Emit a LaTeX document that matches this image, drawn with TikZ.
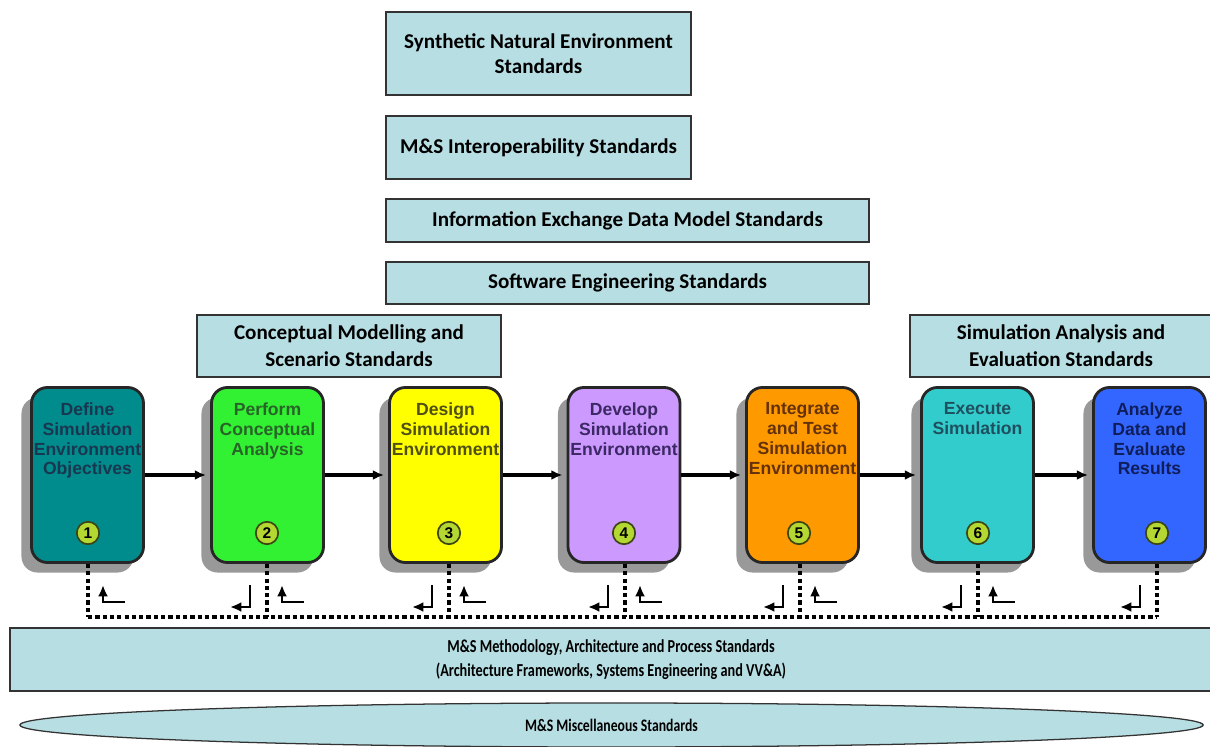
\documentclass[tikz,border=0pt]{standalone}
\usepackage{fontspec}
\setmainfont{Carlito}
\newfontfamily\arialfont{Liberation Sans}
\newfontfamily\narrowfont[FakeStretch=0.78]{Carlito}
\usetikzlibrary{calc,positioning,shapes.geometric,shadows,arrows.meta}

\definecolor{stdblue}{RGB}{183,222,227}
\definecolor{numfill}{RGB}{180,215,50}
\definecolor{numline}{RGB}{60,70,20}
\definecolor{pfillA}{RGB}{0,140,140}
\definecolor{pfillB}{RGB}{50,240,50}
\definecolor{pfillC}{RGB}{255,255,0}
\definecolor{pfillD}{RGB}{204,153,255}
\definecolor{pfillE}{RGB}{255,153,0}
\definecolor{pfillF}{RGB}{51,204,204}
\definecolor{pfillG}{RGB}{51,102,255}
\definecolor{ptextA}{RGB}{25,55,80}
\definecolor{ptextB}{RGB}{40,100,40}
\definecolor{ptextC}{RGB}{80,80,20}
\definecolor{ptextD}{RGB}{60,40,100}
\definecolor{ptextE}{RGB}{100,50,10}
\definecolor{ptextF}{RGB}{30,80,95}
\definecolor{ptextG}{RGB}{15,30,90}

\tikzset{
	stdbox/.style={draw=black!80, line width=1.2pt, fill=stdblue, align=center, inner sep=0pt, font=\fontsize{15}{18}\selectfont\bfseries},
	proc/.style={draw=black!85, line width=2pt, rounded corners=0.4cm, minimum width=2.8cm, minimum height=4.375cm, drop shadow={shadow xshift=-0.25cm, shadow yshift=-0.25cm, fill=black!40, opacity=1}},
	ptext/.style={align=center, inner sep=0pt, font=\arialfont\fontsize{12.5}{14.2}\selectfont\bfseries},
	num/.style={circle, draw=numline, line width=1.2pt, fill=numfill, minimum size=0.56cm, inner sep=0pt, font=\arialfont\fontsize{11}{11}\selectfont\bfseries},
	flow/.style={-{Latex[length=8pt,width=7pt]}, line width=2.5pt, shorten >=0.1cm},
	dotline/.style={line width=3pt, dash pattern=on 3pt off 2.2pt},
	elbow/.style={-{Latex[length=8pt,width=7pt]}, line width=1.6pt}
}

\begin{document}
\begin{tikzpicture}[x=0.025cm, y=-0.025cm]
			%%%%% START %%%%%
			
			\fill[white] (0,0) rectangle (1210,747);
			\useasboundingbox (0,0) rectangle (1210,747);
			
			% standards on top
			\node[stdbox, minimum width=7.625cm, minimum height=2.075cm] (sne) at (538.5,53.5) {Synthetic Natural Environment\\Standards};
			\node[stdbox, minimum width=7.625cm, minimum height=1.575cm] (msi) at (538.5,147.5) {M\&S Interoperability Standards};
			\node[stdbox, minimum width=12.075cm, minimum height=1.075cm] (iedm) at (627.5,220.5) {Information Exchange Data Model Standards};
			\node[stdbox, minimum width=12.075cm, minimum height=1.05cm] (swe) at (627.5,283) {Software Engineering Standards};
			\node[stdbox, minimum width=7.6cm, minimum height=1.55cm, font=\fontsize{15}{19}\selectfont\bfseries] (cms) at (349,346) {Conceptual Modelling and\\Scenario Standards};
			\node[stdbox, minimum width=7.55cm, minimum height=1.55cm, font=\fontsize{15}{19}\selectfont\bfseries] (sae) at (1061,346) {Simulation Analysis and\\Evaluation Standards};
			
			% process steps
			\node[proc, fill=pfillA] (p1) at (87.5,475) {};
			\node[proc, fill=pfillB] (p2) at (267.5,475) {};
			\node[proc, fill=pfillC] (p3) at (445.5,475) {};
			\node[proc, fill=pfillD] (p4) at (624,475) {};
			\node[proc, fill=pfillE] (p5) at (802.5,475) {};
			\node[proc, fill=pfillF] (p6) at (977.5,475) {};
			\node[proc, fill=pfillG] (p7) at (1149.5,475) {};
			
			\node[ptext, text=ptextA, below=0.4cm of p1.north] (t1) {Define\\Simulation\\Environment\\Objectives};
			\node[ptext, text=ptextB, below=0.4cm of p2.north] (t2) {Perform\\Conceptual\\Analysis};
			\node[ptext, text=ptextC, below=0.4cm of p3.north] (t3) {Design\\Simulation\\Environment};
			\node[ptext, text=ptextD, below=0.4cm of p4.north] (t4) {Develop\\Simulation\\Environment};
			\node[ptext, text=ptextE, below=0.4cm of p5.north] (t5) {Integrate\\and Test\\Simulation\\Environment};
			\node[ptext, text=ptextF, below=0.4cm of p6.north] (t6) {Execute\\Simulation};
			\node[ptext, text=ptextG, below=0.4cm of p7.north] (t7) {Analyze\\Data and\\Evaluate\\Results};
			
			\node[num] (n1) at (88,533) {1};
			\node[num] (n2) at (267,533) {2};
			\node[num] (n3) at (449,533) {3};
			\node[num] (n4) at (624,533) {4};
			\node[num] (n5) at (799,533) {5};
			\node[num] (n6) at (978,533) {6};
			\node[num] (n7) at (1157,533) {7};
			
			\draw[flow] (p1.east) -- (p2.west);
			\draw[flow] (p2.east) -- (p3.west);
			\draw[flow] (p3.east) -- (p4.west);
			\draw[flow] (p4.east) -- (p5.west);
			\draw[flow] (p5.east) -- (p6.west);
			\draw[flow] (p6.east) -- (p7.west);
			
			% feedback loop
			\coordinate (d1) at (88,617);
			\coordinate (d2) at (267,617);
			\coordinate (d3) at (449,617);
			\coordinate (d4) at (625,617);
			\coordinate (d5) at (800,617);
			\coordinate (d6) at (978,617);
			\coordinate (d7) at (1157,617);
			
			\draw[dotline] (d1) -- (d7);
			\foreach \i in {1,...,7}
				\draw[dotline] (p\i.south -| d\i) -- (d\i);
			\foreach \i in {1,...,6}
				\draw[elbow] ($(d\i)+(37,-15)$) -- ++(-22,0) -- ++(0,-17);
			\foreach \i in {2,...,7}
				\draw[elbow] ($(d\i)+(-17,-32)$) -- ++(0,22) -- ++(-20,0);
			
			% standards at the bottom
			\node[stdbox, minimum width=30.05cm, minimum height=1.575cm, font=\narrowfont\fontsize{13}{17}\selectfont\bfseries] (mapm) at (611,659.5) {M\&S Methodology, Architecture and Process Standards\\(Architecture Frameworks, Systems Engineering and VV\&A)};
			\node[stdbox, ellipse, line width=0.9pt, minimum width=29.575cm, minimum height=1.1cm, font=\narrowfont\fontsize{12.5}{17}\selectfont\bfseries] (misc) at (611.5,725) {M\&S Miscellaneous Standards};
			
			%%%%% END %%%%%
\end{tikzpicture}
\end{document}
